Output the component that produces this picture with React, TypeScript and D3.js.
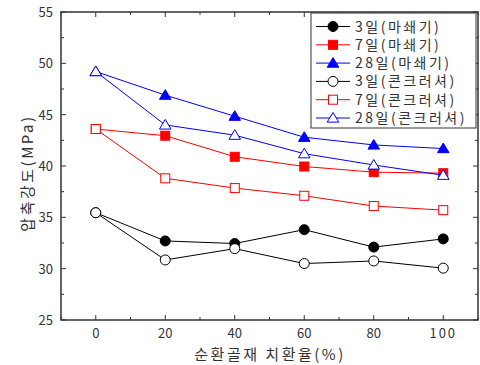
import React from "react";
import * as d3 from "d3";

const xValues = [0, 20, 40, 60, 80, 100];
const series3M = [35.45, 32.7, 32.45, 33.8, 32.1, 32.9];
const series7M = [43.6, 42.95, 40.9, 39.95, 39.4, 39.3];
const series28M = [49.2, 46.9, 44.85, 42.8, 42.05, 41.7];
const series3C = [35.45, 30.85, 31.95, 30.5, 30.75, 30.05];
const series7C = [43.6, 38.8, 37.85, 37.1, 36.1, 35.7];
const series28C = [49.2, 44.0, 43.0, 41.2, 40.1, 39.1];
const seriesNames = ["3일(마쇄기)", "7일(마쇄기)", "28일(마쇄기)", "3일(콘크러셔)", "7일(콘크러셔)", "28일(콘크러셔)"];
const xTicks = [0, 20, 40, 60, 80, 100];
const yTicks = [25, 30, 35, 40, 45, 50, 55];
const xTitle = "순환골재 치환율(%)";
const yTitle = "압축강도(MPa)";

const seriesList = [
  { name: seriesNames[0], values: series3M, color: "#000000", shape: "circle", filled: true },
  { name: seriesNames[1], values: series7M, color: "#ff0000", shape: "square", filled: true },
  { name: seriesNames[2], values: series28M, color: "#0000ff", shape: "triangle", filled: true },
  { name: seriesNames[3], values: series3C, color: "#000000", shape: "circle", filled: false },
  { name: seriesNames[4], values: series7C, color: "#ff0000", shape: "square", filled: false },
  { name: seriesNames[5], values: series28C, color: "#0000ff", shape: "triangle", filled: false },
];

const L = 61, R = 478, T = 12, B = 320;
const FONT = "'Noto Sans CJK KR', 'DejaVu Sans', sans-serif";

function Marker({ x, y, shape, color, filled }: any) {
  const fill = filled ? color : "#fff";
  if (shape === "circle") return <circle cx={x} cy={y} r={5} fill={fill} stroke={color} strokeWidth={1} />;
  if (shape === "square") return <rect x={x - 4.5} y={y - 4.5} width={9} height={9} fill={fill} stroke={color} strokeWidth={1} />;
  const s = 5.5;
  return <path d={`M${x},${y - s}L${x + s * 1.05},${y + s * 0.75}L${x - s * 1.05},${y + s * 0.75}Z`} fill={fill} stroke={color} strokeWidth={1} />;
}

export default function App() {
  const x = d3.scaleLinear().domain([-10, 110]).range([L, R]);
  const y = d3.scaleLinear().domain([25, 55]).range([B, T]);
  const line = d3.line<number>().x((_, i) => x(xValues[i])).y((d) => y(d));
  const xMinor = d3.range(-10, 111, 10);
  const yMinor = d3.range(25, 55.01, 2.5);

  const legX = 311, legY = 13, legW = 165, legH = 115, rowH = 18.3;

  return (
    <svg width={480} height={365} style={{ position: "absolute", left: 0, top: 0 }} fontFamily={FONT}>
      <rect width={480} height={365} fill="#fff" />
      {xMinor.map((v) => {
        const major = v % 20 === 0;
        const len = major ? 5 : 3;
        return (
          <g key={"xt" + v} stroke="#333" strokeWidth={1}>
            <line x1={x(v)} x2={x(v)} y1={B} y2={B - len} />
            <line x1={x(v)} x2={x(v)} y1={T} y2={T + len} />
          </g>
        );
      })}
      {yMinor.map((v) => {
        const major = Math.abs(v % 5) < 1e-6;
        const len = major ? 5 : 3;
        return (
          <g key={"yt" + v} stroke="#333" strokeWidth={1}>
            <line x1={L} x2={L + len} y1={y(v)} y2={y(v)} />
            <line x1={R} x2={R - len} y1={y(v)} y2={y(v)} />
          </g>
        );
      })}
      <rect x={L} y={T} width={R - L} height={B - T} fill="none" stroke="#333" strokeWidth={1.5} />
      {xTicks.map((v) => (
        <text key={"xl" + v} x={x(v)} y={338} textAnchor="middle" fontSize={13} fill="#333" letterSpacing={v === 100 ? 2 : 0}>{v}</text>
      ))}
      {yTicks.map((v) => (
        <text key={"yl" + v} x={53} y={y(v) + 5} textAnchor="end" fontSize={13} fill="#333">{v}</text>
      ))}
      <text x={270} y={360} textAnchor="middle" fontSize={15} fill="#333" letterSpacing={2.5}>{xTitle}</text>
      <text transform={`translate(33,173) rotate(-90)`} textAnchor="middle" fontSize={15} fill="#333" letterSpacing={2.5}>{yTitle}</text>
      {seriesList.map((s, i) => (
        <g key={"s" + i}>
          <path d={line(s.values) || ""} fill="none" stroke={s.color} strokeWidth={1} />
          {s.values.map((v, j) => (
            <Marker key={j} x={x(xValues[j])} y={y(v)} shape={s.shape} color={s.color} filled={s.filled} />
          ))}
        </g>
      ))}
      <rect x={legX} y={legY} width={legW} height={legH} fill="#fff" stroke="#333" strokeWidth={1} />
      {seriesList.map((s, i) => {
        const cy = legY + 13.5 + i * rowH;
        return (
          <g key={"l" + i}>
            <line x1={316} x2={350} y1={cy} y2={cy} stroke={s.color} strokeWidth={1} />
            <Marker x={333} y={cy} shape={s.shape} color={s.color} filled={s.filled} />
            <text x={355} y={cy + 5} fontSize={14} fill="#333" letterSpacing={2.5}>{s.name}</text>
          </g>
        );
      })}
    </svg>
  );
}
